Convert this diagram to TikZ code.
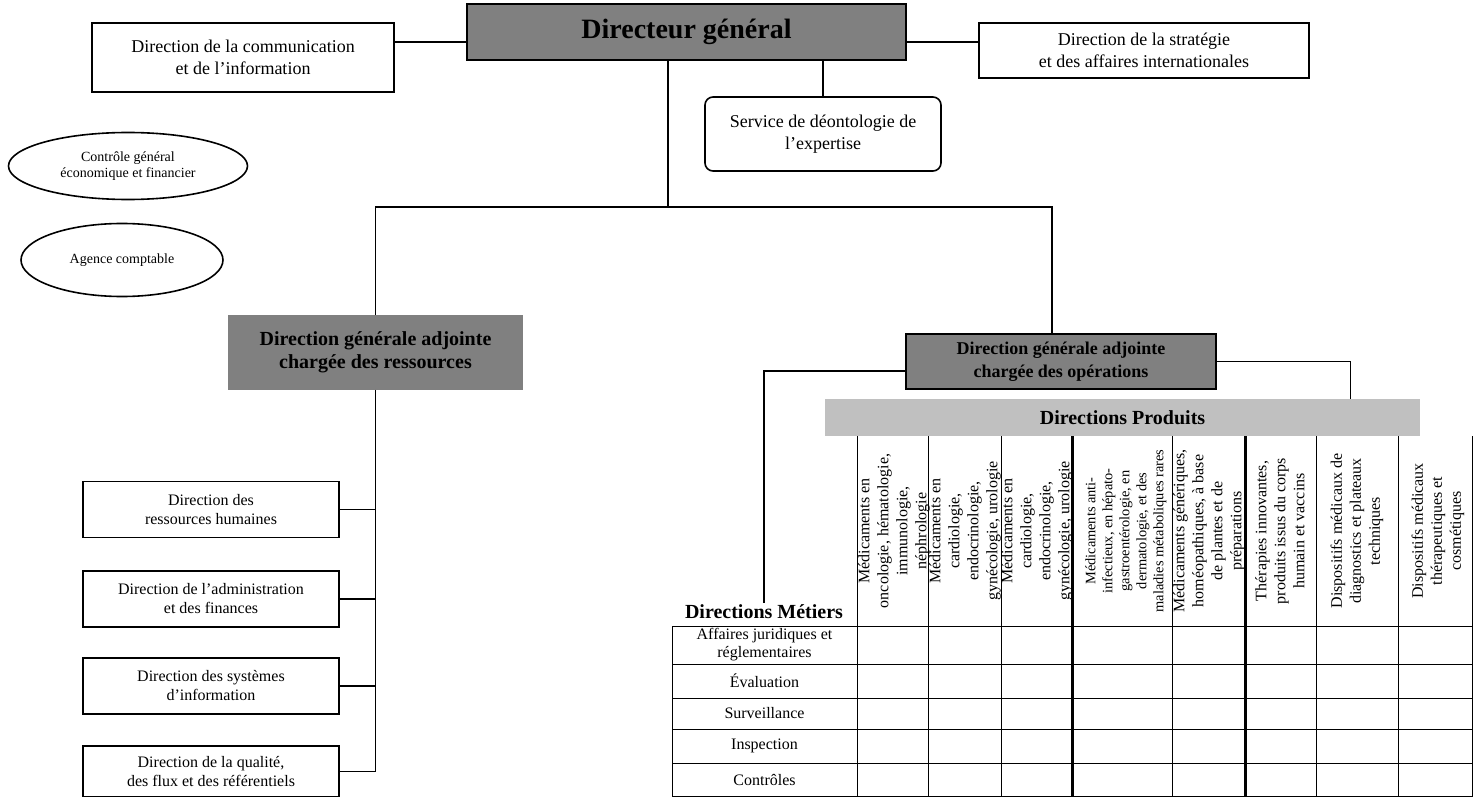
\documentclass[tikz,border=0pt]{standalone}
\usepackage{fontspec}
\setmainfont{Liberation Serif}
\usetikzlibrary{shapes.geometric}
\definecolor{midgrey}{HTML}{808080}
\definecolor{bargrey}{HTML}{C0C0C0}

\begin{document}
\begin{tikzpicture}[x=0.5pt,y=-0.5pt,
  box/.style={draw,line width=0.8pt,inner sep=0pt,align=center,
    font=\fontsize{9}{10.8}\selectfont},
  smallbox/.style={box,minimum width=128pt,minimum height=28pt,
    font=\fontsize{8}{9.5}\selectfont},
  chief/.style={box,fill=midgrey,font=\bfseries\fontsize{10}{11.7}\selectfont},
  oval/.style={ellipse,draw,line width=0.8pt,inner sep=0pt,align=center,
    font=\fontsize{7}{8}\selectfont},
  conn/.style={line width=0.8pt},
  tabline/.style={line width=0.5pt},
  colhead/.style={rotate=90,align=center,inner sep=0pt,
    font=\fontsize{8}{9.5}\selectfont},
  rowhead/.style={align=center,inner sep=0pt,font=\fontsize{8}{9}\selectfont}]
\useasboundingbox (0,0) rectangle (1473,797);
\node[chief,minimum width=219.5pt,minimum height=28pt,
  font=\bfseries\fontsize{14}{16}\selectfont] (dg) at (686.5,32) {Directeur général};
\node[box,minimum width=151pt,minimum height=34.5pt] (com) at (243,57.5)
  {Direction de la communication\\et de l’information};
\node[box,minimum width=165pt,minimum height=27.5pt] (strat) at (1144,50.5)
  {Direction de la stratégie\\et des affaires internationales};
\node[box,rounded corners=4pt,minimum width=118pt,minimum height=37pt] (deonto)
  at (823,134) {Service de déontologie de\\l’expertise};
\node[oval,minimum width=119.5pt,minimum height=33.5pt] (cgef) at (128,166)
  {Contrôle général\\économique et financier};
\node[oval,minimum width=101pt,minimum height=36.5pt] (agence) at (122,260)
  {Agence comptable};
\node[chief,draw=midgrey,minimum width=146.5pt,minimum height=36.5pt] (dgar)
  at (375.5,352.5) {Direction générale adjointe\\chargée des ressources};
\node[chief,minimum width=155pt,minimum height=27.5pt,
  font=\bfseries\fontsize{9}{11.5}\selectfont] (dgao) at (1061,361.5)
  {Direction générale adjointe\\chargée des opérations};
\node[smallbox] (drh) at (211,509.5) {Direction des\\ressources humaines};
\node[smallbox] (daf) at (211,599) {Direction de l’administration\\et des finances};
\node[smallbox] (dsi) at (211,686) {Direction des systèmes\\d’information};
\node[smallbox,minimum height=25.5pt] (dqfr) at (211,771.5)
  {Direction de la qualité,\\des flux et des référentiels};
\node[fill=bargrey,minimum width=297.5pt,minimum height=18.5pt,inner sep=0pt,
  font=\bfseries\fontsize{10}{12}\selectfont] (prod) at (1122.5,417.5) {Directions Produits};
\node[inner sep=1pt,font=\bfseries\fontsize{10}{12}\selectfont] (metiers) at (764,612)
  {Directions Métiers};
% table
\foreach \cx in {857,928,1001,1172,1316,1398,1472}
  \draw[tabline] (\cx,436) -- (\cx,797);
\foreach \cx in {1072,1245}
  \draw[line width=1.5pt] (\cx,436) -- (\cx,797);
\foreach \ry in {626,664,698,729,763,796}
  \draw[tabline] (672,\ry) -- (1472,\ry);
\draw[tabline] (672,626) -- (672,797);
\node[rowhead] (r1) at (764.5,645) {Affaires juridiques et\\réglementaires};
\node[rowhead] (r2) at (764.5,681) {Évaluation};
\node[rowhead] (r3) at (764.5,713.5) {Surveillance};
\node[rowhead] (r4) at (764.5,746) {Inspection};
\node[rowhead] (r5) at (764.5,780) {Contrôles};
\node[colhead] (c1) at (894,531)
  {Médicaments en\\oncologie, hématologie,\\immunologie,\\néphrologie};
\node[colhead] (c2) at (965,531)
  {Médicaments en\\cardiologie,\\endocrinologie,\\gynécologie, urologie};
\node[colhead] (c3) at (1037,531)
  {Médicaments en\\cardiologie,\\endocrinologie,\\gynécologie, urologie};
\node[colhead,font=\fontsize{7.2}{8.5}\selectfont] (c4) at (1126,531)
  {Médicaments anti-\\infectieux, en hépato-\\gastroentérologie, en\\dermatologie, et des\\maladies métaboliques rares};
\node[colhead] (c5) at (1209,531)
  {Médicaments génériques,\\homéopathiques, à base\\de plantes et de\\préparations};
\node[colhead] (c6) at (1280,531)
  {Thérapies innovantes,\\produits issus du corps\\humain et vaccins};
\node[colhead] (c7) at (1357,531)
  {Dispositifs médicaux de\\diagnostics et plateaux\\techniques};
\node[colhead] (c8) at (1438,531)
  {Dispositifs médicaux\\thérapeutiques et\\cosmétiques};
% links
\coordinate (lvl) at (0,42);
\coordinate (trunk) at (668,207);
\draw[conn] (com.east |- lvl) -- (dg.west |- lvl);
\draw[conn] (dg.east |- lvl) -- (strat.west |- lvl);
\draw[conn] (dg.south -| deonto.north) -- (deonto.north);
\draw[conn] (dg.south -| trunk) -- (trunk);
\draw[conn] (dgar.north) |- (trunk) -| ([xshift=-4.5pt]dgao.north);
\draw[conn] (dgar.south) |- (dqfr.east);
\foreach \b in {drh,daf,dsi}
  \draw[conn] (\b.east) -- (\b.east -| dgar.south);
\draw[conn] ([yshift=-4.75pt]dgao.west) -| (metiers.north);
\draw[conn] (dgao.east) -| ([xshift=114pt]prod.north);
\end{tikzpicture}
\end{document}
